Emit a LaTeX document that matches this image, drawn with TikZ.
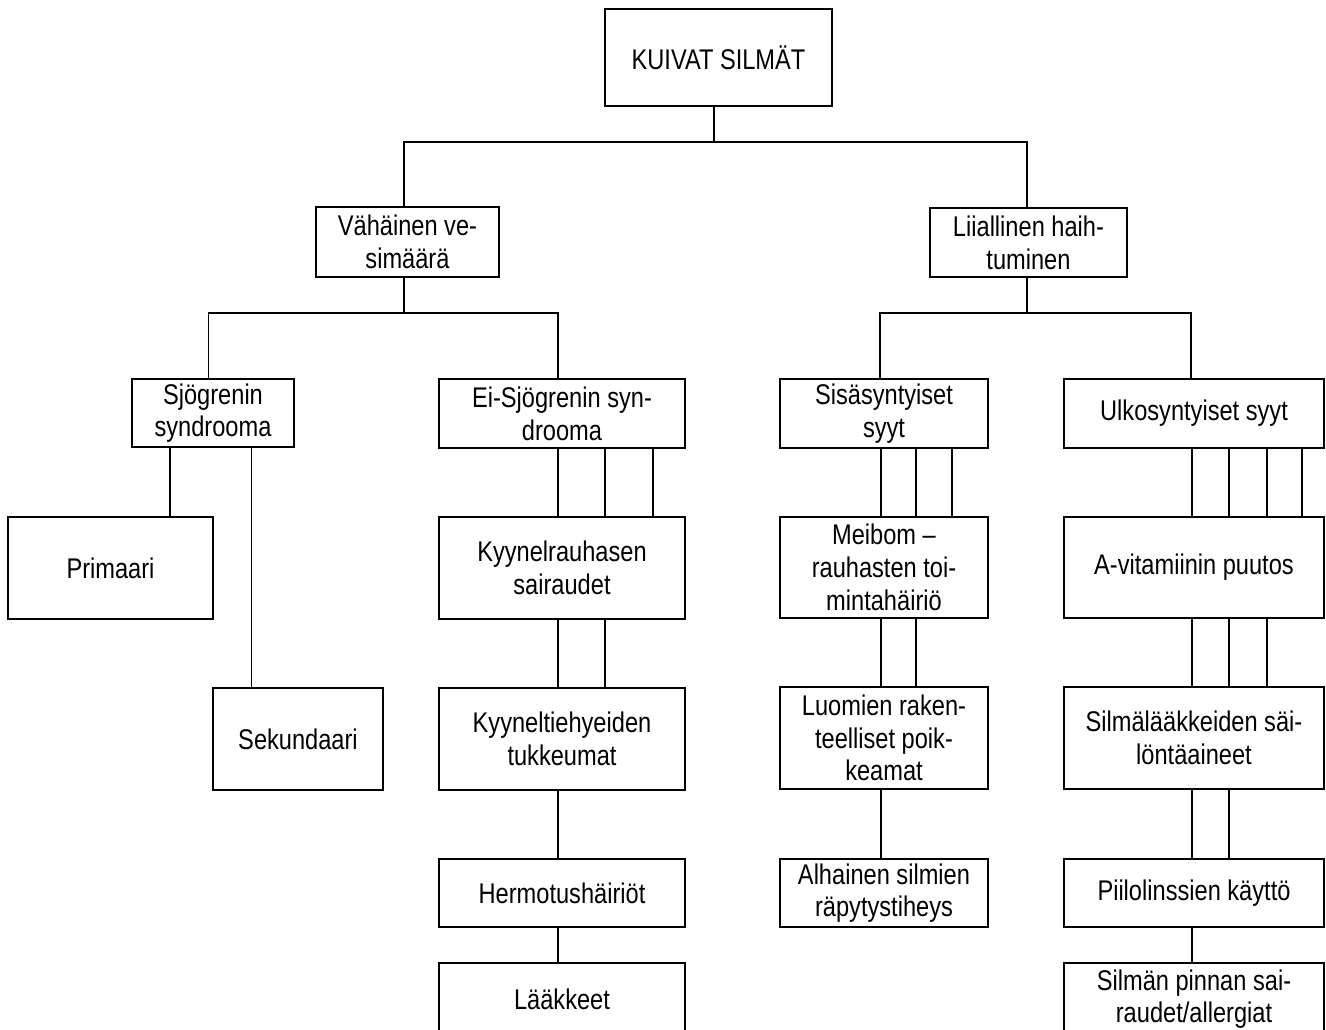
\documentclass[tikz,border=0pt]{standalone}
\usepackage{fontspec}
\setmainfont{Liberation Sans}[FakeStretch=0.83]
\usepackage{tikz}
\usetikzlibrary{calc}

\begin{document}
\begin{tikzpicture}[
      x=0.02cm, y=-0.02cm,
      box/.style={draw=black, line width=1.2pt, fill=white, inner sep=0pt, align=center,
        font=\fontsize{16.2}{18.6}\selectfont},
      sz/.style 2 args={minimum width=#1*0.02cm, minimum height=#2*0.02cm},
      ln/.style={line width=0.9pt, draw=black}
    ]
      \useasboundingbox (0,0) rectangle (1326,1030);
      \clip (0,0) rectangle (1326,1030);
      % levels 1 and 2
      \node[box, sz={227}{97}] (top) at (718.5,57.5) {KUIVAT SILMÄT};
      \node[box, sz={183}{70}] (vah) at (407.5,242) {Vähäinen ve-\\simäärä};
      \node[box, sz={197}{69}] (lii) at (1028.5,242.5) {Liiallinen haih-\\tuminen};
      % level 3
      \node[box, sz={162}{68}] (sjo) at (213,413) {Sjögrenin\\syndrooma};
      \node[box, sz={246}{69}] (eis) at (562,413.5) {Ei-Sjögrenin syn-\\drooma};
      \node[box, sz={208}{69}] (sis) at (884,413.5) {Sisäsyntyiset\\syyt};
      \node[box, sz={260}{69}] (ulk) at (1194,413.5) {Ulkosyntyiset syyt};
      % causes
      \node[box, sz={205}{102}] (pri) at (110.5,568) {Primaari};
      \node[box, sz={170}{102}] (sek) at (298,739) {Sekundaari};
      \node[box, sz={246}{102}] (kyr) at (562,568) {Kyynelrauhasen\\sairaudet};
      \node[box, sz={246}{102}] (kyt) at (562,739) {Kyyneltiehyeiden\\tukkeumat};
      \node[box, sz={246}{68}] (her) at (562,893) {Hermotushäiriöt};
      \node[box, sz={246}{72}] (laa) at (562,999) {Lääkkeet};
      \node[box, sz={208}{101}] (mei) at (884,567.5) {Meibom –\\rauhasten toi-\\mintahäiriö};
      \node[box, sz={208}{102}] (luo) at (884,738) {Luomien raken-\\teelliset poik-\\keamat};
      \node[box, sz={208}{68}] (alh) at (884,893) {Alhainen silmien\\räpytystiheys};
      \node[box, sz={260}{101}] (avi) at (1194,567.5) {A-vitamiinin puutos};
      \node[box, sz={260}{102}] (sil) at (1194,738) {Silmälääkkeiden säi-\\löntäaineet};
      \node[box, sz={260}{68}] (pii) at (1194,893) {Piilolinssien käyttö};
      \node[box, sz={260}{72}] (spi) at (1194,999) {Silmän pinnan sai-\\raudet/allergiat};
      % junctions
      \coordinate (jtop) at (714,142);
      \coordinate (jvah) at (404,313);
      \coordinate (jlii) at (1027,313);
      \draw[ln] (jtop |- top.south) -- (jtop);
      \draw[ln] ($(vah.north)+(-3.5,0)$) |- (jtop) -| ($(lii.north)+(-1.5,0)$);
      \draw[ln] (jvah |- vah.south) -- (jvah);
      \draw[ln] ($(sjo.north)+(-4.5,0)$) |- (jvah) -| ($(eis.north)+(-4,0)$);
      \draw[ln] (jlii |- lii.south) -- (jlii);
      \draw[ln] ($(sis.north)+(-4,0)$) |- (jlii) -| ($(ulk.north)+(-3,0)$);
      % Sjögren
      \draw[ln] ($(sjo.south)+(-43,0)$) -- (pri.north -| {$(sjo.south)+(-43,0)$});
      \draw[ln] ($(sjo.south)+(38.5,0)$) -- (sek.north -| {$(sjo.south)+(38.5,0)$});
      % parallel lines
      \foreach \dx in {-4,43,91} \draw[ln] ($(eis.south)+(\dx,0)$) -- ($(kyr.north)+(\dx,0)$);
      \foreach \dx in {-4,43} \draw[ln] ($(kyr.south)+(\dx,0)$) -- ($(kyt.north)+(\dx,0)$);
      \draw[ln] ($(kyt.south)+(-4,0)$) -- ($(her.north)+(-4,0)$);
      \draw[ln] ($(her.south)+(-4,0)$) -- ($(laa.north)+(-4,0)$);
      \foreach \dx in {-3,32,68} \draw[ln] ($(sis.south)+(\dx,0)$) -- ($(mei.north)+(\dx,0)$);
      \foreach \dx in {-3,32} \draw[ln] ($(mei.south)+(\dx,0)$) -- ($(luo.north)+(\dx,0)$);
      \draw[ln] ($(luo.south)+(-3,0)$) -- ($(alh.north)+(-3,0)$);
      \foreach \dx in {-2,35,73,108} \draw[ln] ($(ulk.south)+(\dx,0)$) -- ($(avi.north)+(\dx,0)$);
      \foreach \dx in {-2,35,73} \draw[ln] ($(avi.south)+(\dx,0)$) -- ($(sil.north)+(\dx,0)$);
      \foreach \dx in {-2,35} \draw[ln] ($(sil.south)+(\dx,0)$) -- ($(pii.north)+(\dx,0)$);
      \draw[ln] ($(pii.south)+(-2,0)$) -- ($(spi.north)+(-2,0)$);
    \end{tikzpicture}
\end{document}
